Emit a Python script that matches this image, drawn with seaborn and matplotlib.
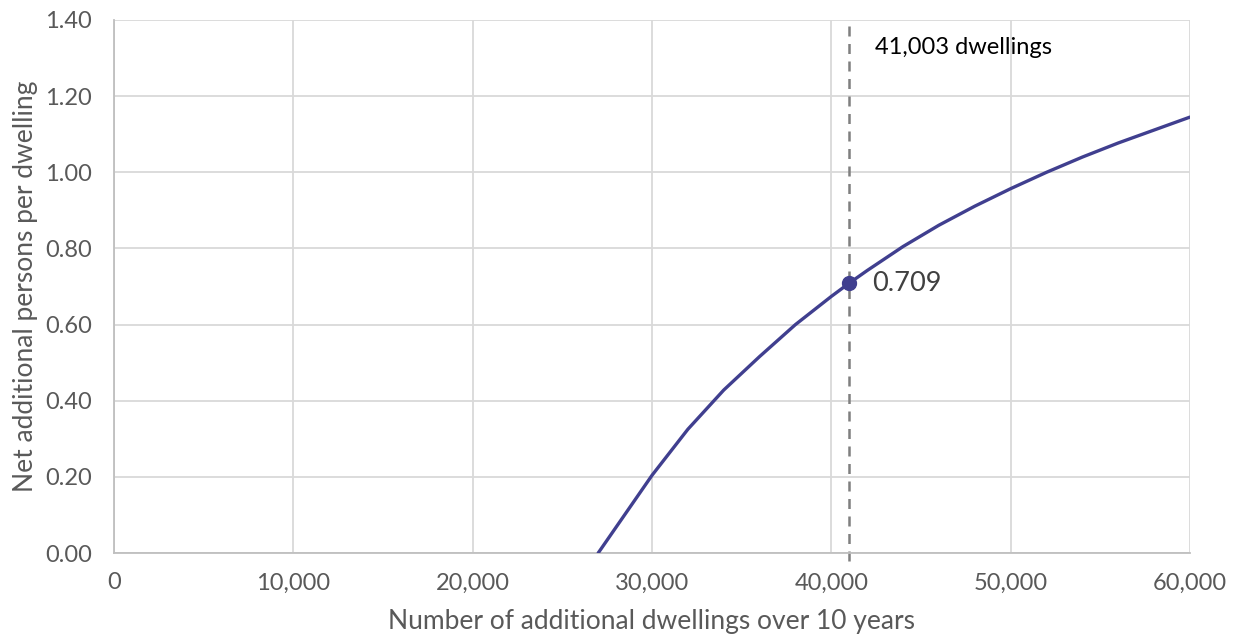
import matplotlib
matplotlib.use("Agg")
import matplotlib.pyplot as plt
import seaborn as sns
import pandas as pd
from matplotlib.ticker import FuncFormatter, MultipleLocator

# Net additional persons per dwelling by number of additional dwellings
dwellings = [27000, 30000, 32000, 34000, 36000, 38000, 40000, 41003, 42000,
             44000, 46000, 48000, 50000, 52000, 54000, 56000, 58000, 60000]
persons_per_dwelling = [0.000, 0.204, 0.325, 0.428, 0.516, 0.600, 0.674, 0.709, 0.742,
                        0.805, 0.861, 0.911, 0.957, 1.000, 1.040, 1.077, 1.111, 1.145]

marker_x = 41003
marker_y = 0.709
marker_label = "41,003 dwellings"

x_label = "Number of additional dwellings over 10 years"
y_label = "Net additional persons per dwelling"

sns.set_theme(style="white")
plt.rcParams["font.family"] = ["Lato", "DejaVu Sans"]

line_color = "#403F8F"
grid_color = "#D9D9D9"
tick_color = "#595959"

df = pd.DataFrame({"dwellings": dwellings, "ppd": persons_per_dwelling})

fig = plt.figure(figsize=(12.38, 6.38), dpi=100)
ax = fig.add_axes([114 / 1238, 1 - 553 / 638, (1190 - 114) / 1238, (553 - 20) / 638])

sns.lineplot(data=df, x="dwellings", y="ppd", ax=ax, color=line_color,
             linewidth=2.4, zorder=3)

ax.set_xlim(0, 60000)
ax.set_ylim(0, 1.40)
ax.xaxis.set_major_locator(MultipleLocator(10000))
ax.yaxis.set_major_locator(MultipleLocator(0.2))
ax.xaxis.set_major_formatter(FuncFormatter(lambda v, p: f"{v:,.0f}"))
ax.yaxis.set_major_formatter(FuncFormatter(lambda v, p: f"{v:.2f}"))

ax.grid(True, color=grid_color, linewidth=1.3)
ax.set_axisbelow(True)
for side in ["top", "right"]:
    ax.spines[side].set_visible(False)
for side in ["left", "bottom"]:
    ax.spines[side].set_color("#BFBFBF")
    ax.spines[side].set_linewidth(1.3)

ax.tick_params(axis="both", length=0, labelsize=17, colors=tick_color)
ax.tick_params(axis="y", pad=16)
ax.tick_params(axis="x", pad=14)
ax.set_xlabel(x_label, fontsize=19, color=tick_color)
ax.set_ylabel(y_label, fontsize=19, color=tick_color)
ax.xaxis.set_label_coords(0.5, -0.106)
ax.yaxis.set_label_coords(-0.0706, 0.5)

# Vertical reference line at the marked dwelling count
ax.plot([marker_x, marker_x], [-0.02, 1.40], color="#7F7F7F", linewidth=1.8,
        linestyle=(0, (4, 3)), clip_on=False, zorder=2)
ax.plot([marker_x], [marker_y], marker="o", markersize=10, color=line_color, zorder=4)

ax.annotate(f"{marker_y:.3f}", xy=(marker_x, marker_y), xytext=(16.5, 0),
            textcoords="offset points", ha="left", va="center",
            fontsize=19.5, color="#404040")
ax.annotate(marker_label, xy=(marker_x, 1.40), xytext=(18.5, -19.5),
            textcoords="offset points", ha="left", va="center",
            fontsize=17, color="#000000")

fig.savefig("out.png", dpi=100)
